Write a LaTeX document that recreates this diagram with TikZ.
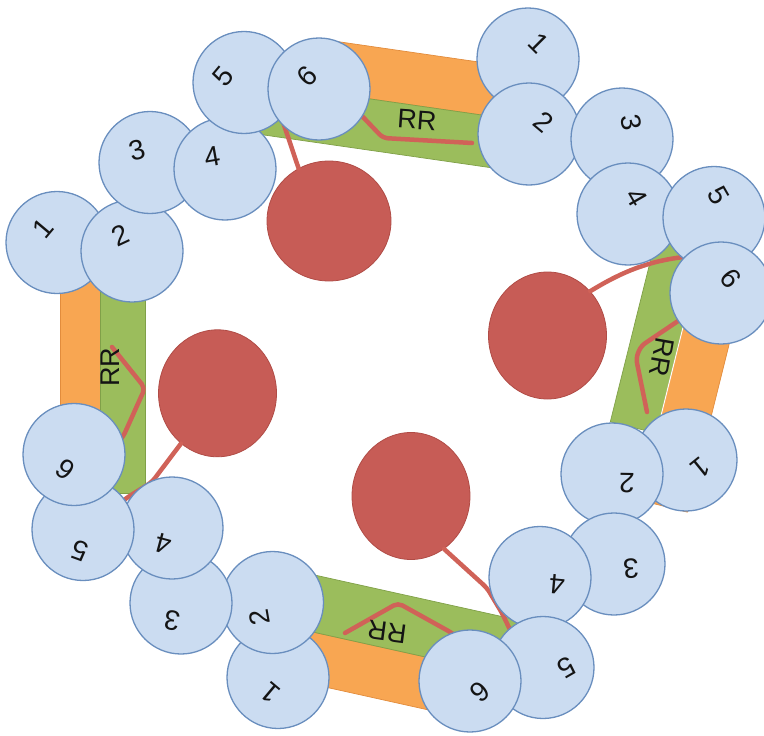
\documentclass[tikz,border=0pt]{standalone}
\usepackage{fontspec}
\setmainfont{Liberation Sans}
\usetikzlibrary{shapes.geometric}

\definecolor{subfill}{RGB}{203,220,241}
\definecolor{subline}{RGB}{105,142,190}
\definecolor{bandorange}{RGB}{248,166,82}
\definecolor{bandorangeline}{RGB}{226,140,60}
\definecolor{bandgreen}{RGB}{155,189,92}
\definecolor{bandgreenline}{RGB}{128,160,72}
\definecolor{cargofill}{RGB}{199,92,86}
\definecolor{cargoline}{RGB}{176,76,70}
\definecolor{cordcol}{RGB}{208,98,88}
\definecolor{inkcol}{RGB}{20,20,20}

\begin{document}
\begin{tikzpicture}[x=1pt,y=-1pt,
  sub/.style={circle, draw=subline, fill=subfill, line width=1.3pt,
              minimum size=102pt, inner sep=0pt},
  num/.style={font=\fontsize{28}{28}\selectfont, text=inkcol, inner sep=0pt},
  rrtext/.style={font=\fontsize{27}{27}\selectfont, text=inkcol, inner sep=0pt},
  cargo/.style={ellipse, fill=cargofill, draw=cargoline, line width=0.8pt, inner sep=0pt},
  cord/.style={draw=cordcol, line width=4.5pt, line cap=round, line join=round, rounded corners=5pt},
  orangeband/.style={fill=bandorange, draw=bandorangeline, line width=0.7pt},
  greenband/.style={fill=bandgreen, draw=bandgreenline, line width=0.7pt}]
\useasboundingbox (0,0) rectangle (764,736);

% ---------- bands (orange + green) ----------
% top
\filldraw[orangeband] (320.3,39.1) -- (518.2,67.7) -- (510.8,119.2) -- (312.9,90.6) -- cycle;
\filldraw[greenband] (243.6,80.7) -- (510.8,119.2) -- (503.5,169.5) -- (236.3,131) -- cycle;
% right
\filldraw[greenband] (661.8,215.1) -- (708.1,226.6) -- (656.6,433.3) -- (610.3,421.8) -- cycle;
\filldraw[orangeband] (696,275.1) -- (743.4,287) -- (687.3,512.1) -- (639.9,500.2) -- cycle;
\draw[white, line width=1pt] (696,275.1) -- (656.6,433.3);
% bottom
\filldraw[orangeband] (269.7,674.7) -- (474.7,720.2) -- (485.7,670.4) -- (280.7,624.9) -- cycle;
\filldraw[greenband] (280.7,624.9) -- (529.7,680.1) -- (541.9,625.4) -- (292.9,570.2) -- cycle;
% left
\filldraw[orangeband] (60,280) rectangle (100,493);
\filldraw[greenband] (100,280) rectangle (145,493);

% ---------- cargo balls ----------
\node[cargo, minimum width=124pt, minimum height=120pt] (ballT) at (329,221) {};
\node[cargo, minimum width=118pt, minimum height=127pt] (ballR) at (547.5,335.5) {};
\node[cargo, minimum width=118pt, minimum height=127pt] (ballB) at (411,496) {};
\node[cargo, minimum width=118pt, minimum height=127pt] (ballL) at (217.5,393.3) {};

% ---------- anchor points of the cords ----------
\coordinate (tetT) at (283,122);
\coordinate (tetR) at (695,256);
\coordinate (tetB1) at (487,588);
\coordinate (tetB2) at (502,613);
\coordinate (tetB) at (513,636);
\coordinate (tetL1) at (152,482);
\coordinate (tetL2) at (128,497);
\coordinate (tetL) at (116,506);

\coordinate (sqT0) at (350,105);
\coordinate (sqT1) at (362,116);
\coordinate (sqT2) at (383,138);
\coordinate (sqT3) at (472,143);
\coordinate (sqR0) at (684,317);
\coordinate (sqR1) at (641,346);
\coordinate (sqR2) at (636,358);
\coordinate (sqR3) at (647,412);
\coordinate (sqB0) at (345,633);
\coordinate (sqB1) at (398,603);
\coordinate (sqB2) at (452,633);
\coordinate (sqB3) at (470,648);
\coordinate (sqL0) at (112,347);
\coordinate (sqL1) at (145,388);
\coordinate (sqL2) at (123,437);
\coordinate (sqL3) at (104,456);

% ---------- cords ----------
\draw[cord] (ballT.120) -- (tetT);
\draw[cord] (ballR.46) .. controls (620,273) and (650,259) .. (tetR);
\draw[cord] (ballB.-58) -- (tetB1) -- (tetB2) -- (tetB);
\draw[cord] (ballL.234) -- (tetL1) -- (tetL2) -- (tetL);

\draw[cord] (sqT0) -- (sqT1) -- (sqT2) -- (sqT3);
\draw[cord] (sqR0) -- (sqR1) -- (sqR2) -- (sqR3);
\draw[cord] (sqB0) -- (sqB1) -- (sqB2) -- (sqB3);
\draw[cord] (sqL0) -- (sqL1) -- (sqL2) -- (sqL3);

% ---------- subunits ----------
% top-left corner
\node[sub] (l1) at (57,242.5) {};
\node[sub] (l2) at (132,251) {};
\node[sub] (l3) at (150,162.5) {};
\node[sub] (l4) at (225,169) {};
\node[sub] (l5) at (244,82.5) {};
\node[sub] (t6) at (319,89) {};
% top-right corner
\node[sub] (t1) at (528,59) {};
\node[sub] (t2) at (529,134) {};
\node[sub] (t3) at (622,139) {};
\node[sub] (t4) at (628,214) {};
\node[sub] (t5) at (714,217.5) {};
\node[sub] (r6) at (721,293) {};
% bottom-right corner
\node[sub] (r1) at (686,460) {};
\node[sub] (r2) at (612,474) {};
\node[sub] (r3) at (614,564) {};
\node[sub] (r4) at (540,577.5) {};
\node[sub] (r5) at (543,667.5) {};
\node[sub] (b6) at (470,681) {};
% bottom-left corner
\node[sub] (b1) at (278,677.5) {};
\node[sub] (b2) at (272.5,602.5) {};
\node[sub] (b3) at (181,603) {};
\node[sub] (b4) at (172,528) {};
\node[sub] (b5) at (83,529.5) {};
\node[sub] (l6) at (74,454.5) {};

% ---------- labels ----------
% top group
\node[num, rotate=45]  (nt6) at (307,76) {6};
\node[num, rotate=-45] (nt1) at (539,43) {1};
\node[num, rotate=-40] (nt2) at (544,122) {2};
\node[num, rotate=-80] (nt3) at (631,122) {3};
\node[num, rotate=-60] (nt4) at (637,197) {4};
\node[num, rotate=-60] (nt5) at (719,195) {5};
\node[rrtext, rotate=-4] (rrT) at (417,120) {RR};
% right group
\node[num, rotate=-51]  (nr6) at (731,278) {6};
\node[num, rotate=-141] (nr1) at (701,468) {1};
\node[num, rotate=179]  (nr2) at (627,483) {2};
\node[num, rotate=-176] (nr3) at (631,569) {3};
\node[num, rotate=175]  (nr4) at (557,584) {4};
\node[num, rotate=-150] (nr5) at (566,668) {5};
\node[rrtext, rotate=-100] (rrR) at (662,357) {RR};
% bottom group
\node[num, rotate=221.5] (nb6) at (480,692) {6};
\node[num, rotate=140]   (nb1) at (270,693) {1};
\node[num, rotate=100]   (nb2) at (260,618) {2};
\node[num, rotate=170]   (nb3) at (172,621) {3};
\node[num, rotate=165]   (nb4) at (163,544) {4};
\node[num, rotate=160]   (nb5) at (80,551) {5};
\node[rrtext, rotate=172.5] (rrB) at (387,632) {RR};
% left group
\node[num, rotate=143] (nl6) at (65,470) {6};
\node[num, rotate=50]  (nl1) at (43,228) {1};
\node[num, rotate=25]  (nl2) at (120,235) {2};
\node[num, rotate=15]  (nl3) at (137,150) {3};
\node[num, rotate=10]  (nl4) at (212,157) {4};
\node[num, rotate=50]  (nl5) at (223,76) {5};
\node[rrtext, rotate=90] (rrL) at (110,367) {RR};
\end{tikzpicture}
\end{document}
